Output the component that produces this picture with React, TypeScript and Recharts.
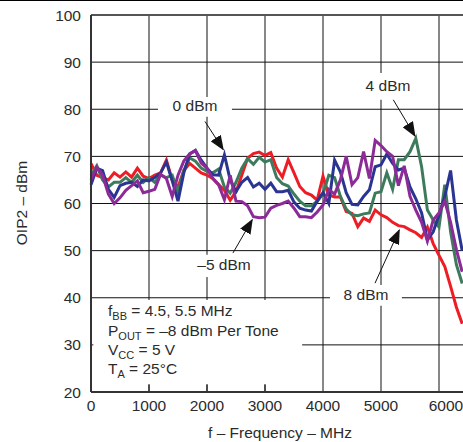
import { LineChart, Line, XAxis, YAxis, CartesianGrid, ReferenceLine, ReferenceArea } from "recharts";

// f - MHz, 100 MHz steps
const FREQ = Array.from({ length: 65 }, (_, i) => i * 100);

const P8 = [
  68.5, 66, 65.5, 65, 66.5, 65.6, 66.7, 65.6, 67.5, 65.8,
  65.3, 66, 66.5, 69.2, 65, 63.5, 67, 68.5, 67.5, 66.5,
  66, 65.3, 64, 62.8, 60.7, 62.5, 66, 69.6, 70.6, 70.9,
  70.2, 70.8, 67.5, 65.6, 69.3, 66.5, 63.6, 62.3, 61.8, 60.7,
  65.8, 61.8, 61.4, 61.4, 58.3, 57.9, 55.1, 56.9, 56.2, 58.6,
  57.6, 57, 56, 55.3, 55.1, 54.4, 53.8, 52.8, 55, 51.5,
  49, 46.6, 42.4, 38, 34.5,
];
const P4 = [
  66, 68, 65, 63.5, 64.5, 64.5, 65.5, 64.5, 66, 64.5,
  65.5, 64.5, 66, 65.5, 66, 62.5, 67, 69.7, 69, 67.5,
  66.8, 66.5, 67.3, 63.5, 62.2, 64.5, 67.5, 69.5, 68.3, 69.8,
  68.8, 69.3, 65.5, 64.2, 63.7, 62, 60.5, 59.5, 59.5, 60.5,
  62, 66, 65.5, 61.5, 58.8, 57.6, 57.4, 57.8, 58, 62.2,
  62.5, 66.5, 63, 69.3, 69.3, 71, 73.8, 67.8, 58.6, 56.5,
  55, 64, 54, 47, 43,
];
const P0 = [
  64, 67.5, 67, 63, 61.3, 63.8, 64.3, 64.5, 63.6, 65,
  64.8, 65.5, 66.5, 68.8, 64.8, 60.5, 66.5, 70.5, 71.3, 69.2,
  67.5, 66.1, 66, 70.3, 65, 62.5, 64.5, 65.5, 63.5, 64.3,
  63, 64.3, 62.5, 62.5, 62.8, 60.3, 59, 58.6, 58.4, 60.5,
  62.3, 60, 69.2, 66.7, 62.3, 59.8, 59.7, 61.5, 62.9, 67.8,
  68.2, 70.5, 68.5, 67.1, 67.5, 63.5, 61, 58, 52.3, 54,
  57.5, 61.5, 67, 56.5, 50,
];
const PM5 = [
  65, 67.7, 66, 62, 60, 61.2, 62.8, 63.8, 64.8, 62.3,
  62.6, 63, 66.2, 65.3, 61.5, 66, 69, 70.5, 71.2, 68.6,
  67.5, 65.3, 64, 60.8, 66, 60.5, 60.4, 59.5, 57.2, 57,
  57.1, 59, 59.6, 60, 60.5, 59, 57.2, 57.2, 57, 58.2,
  59.7, 63, 62, 65, 70, 64, 65.5, 71, 65.3, 73.4,
  72.3, 71, 70, 63.8, 68, 61.5, 58.6, 56, 52, 56.5,
  58, 60.5, 56, 50.2, 45.5,
];

const X_TICKS = [0, 1000, 2000, 3000, 4000, 5000, 6000];
const X_GRID = [0, 1000, 2000, 3000, 4000, 5000, 6000, 7000];
const Y_TICKS = [20, 30, 40, 50, 60, 70, 80, 90, 100];

const data = FREQ.map((f, i) => ({ f, p8: P8[i], p4: P4[i], p0: P0[i], pm5: PM5[i] }));

const FONT = "'Liberation Sans', Arial, Helvetica, sans-serif";
const TXT = "#2b2b2b";

const Label = ({ x, y, children }: { x: number; y: number; children: any }) => (
  <div
    style={{
      position: "absolute",
      left: x,
      top: y,
      transform: "translate(-50%, -50%)",
      whiteSpace: "nowrap",
      fontSize: 15.5,
      lineHeight: 1,
      color: TXT,
    }}
  >
    {children}
  </div>
);

const subStyle: any = { fontSize: 11, position: "relative", top: 4, lineHeight: 0 };

const NoteLine = ({ y, children }: { y: number; children: any }) => (
  <div
    style={{
      position: "absolute",
      left: 108,
      top: y,
      transform: "translateY(-50%)",
      fontSize: 15.5,
      lineHeight: 1,
      color: TXT,
      whiteSpace: "nowrap",
    }}
  >
    {children}
  </div>
);

// last label sits a little right of its grid line in the original
const XTick = (props: any) => {
  const { x, y, payload } = props;
  const dx = payload.value === 6000 ? 7 : 0;
  return (
    <text x={x + dx} y={y} dy="0.71em" textAnchor="middle" fontSize={15.5} fill={TXT} fontFamily={FONT}>
      {payload.value}
    </text>
  );
};

export default function App() {
  return (
    <div
      style={{
        position: "absolute",
        left: 0,
        top: 0,
        width: 463,
        height: 442,
        overflow: "hidden",
        background: "#fff",
        fontFamily: FONT,
      }}
    >
      <svg width={0} height={0} style={{ position: "absolute" }}>
        <defs>
          <marker
            id="arrowHead"
            markerUnits="userSpaceOnUse"
            markerWidth={15}
            markerHeight={12}
            refX={14}
            refY={6}
            orient="auto"
          >
            <path d="M0,0 L15,6 L0,12 z" fill="#111" />
          </marker>
        </defs>
      </svg>
      <div style={{ position: "absolute", left: 0, top: 0, width: 463, height: 1, background: "#000" }} />
      <LineChart width={500} height={442} data={data} margin={{ top: 15, right: 3, left: 0, bottom: 0 }}>
        <CartesianGrid stroke="#111" strokeWidth={1} horizontalValues={Y_TICKS} verticalValues={X_GRID} />
        <XAxis
          dataKey="f"
          type="number"
          domain={[0, 7000]}
          ticks={X_TICKS}
          height={50}
          tickLine={false}
          axisLine={{ stroke: "#333", strokeWidth: 2 }}
          tick={<XTick />}
          interval={0}
        />
        <YAxis
          type="number"
          domain={[20, 100]}
          ticks={Y_TICKS}
          width={91}
          tickLine={false}
          tickMargin={4}
          axisLine={{ stroke: "#333", strokeWidth: 2 }}
          tick={{ fontSize: 15.5, fill: TXT, fontFamily: FONT }}
          interval={0}
        />
        <ReferenceLine y={100} stroke="#555" strokeWidth={2} />

        {/* white boxes behind the annotation text */}
        <ReferenceArea x1={40} x2={3640} y1={21.5} y2={39.5} fill="#fff" fillOpacity={1} stroke="none" />
        <ReferenceArea x1={1155} x2={2430} y1={78.4} y2={82.6} fill="#fff" fillOpacity={1} stroke="none" />
        <ReferenceArea x1={4640} x2={5600} y1={82} y2={87.7} fill="#fff" fillOpacity={1} stroke="none" />
        <ReferenceArea x1={1795} x2={2845} y1={44.4} y2={49.1} fill="#fff" fillOpacity={1} stroke="none" />
        <ReferenceArea x1={4120} x2={5360} y1={38.3} y2={42.7} fill="#fff" fillOpacity={1} stroke="none" />

        {[1000, 2000, 3000].map((v) => (
          <ReferenceLine key={v} segment={[{ x: v, y: 20 }, { x: v, y: 21.7 }]} stroke="#111" />
        ))}

        <Line type="linear" dataKey="p8" stroke="#ee1d25" strokeWidth={3} dot={false} isAnimationActive={false} />
        <Line type="linear" dataKey="p4" stroke="#3d7b5d" strokeWidth={3} dot={false} isAnimationActive={false} />
        <Line type="linear" dataKey="p0" stroke="#2a3592" strokeWidth={3} dot={false} isAnimationActive={false} />
        <Line type="linear" dataKey="pm5" stroke="#8c2b97" strokeWidth={3} dot={false} isAnimationActive={false} />

        <ReferenceLine segment={[{ x: 1966, y: 77.4 }, { x: 2281, y: 71.4 }]} stroke="#111" strokeWidth={1} markerEnd="url(#arrowHead)" />
        <ReferenceLine segment={[{ x: 5212, y: 82 }, { x: 5586, y: 74.3 }]} stroke="#111" strokeWidth={1} markerEnd="url(#arrowHead)" />
        <ReferenceLine segment={[{ x: 2448, y: 49.5 }, { x: 2781, y: 56.6 }]} stroke="#111" strokeWidth={1} markerEnd="url(#arrowHead)" />
        <ReferenceLine segment={[{ x: 4897, y: 43.1 }, { x: 5316, y: 54.4 }]} stroke="#111" strokeWidth={1} markerEnd="url(#arrowHead)" />
      </LineChart>

      <Label x={195} y={106}>0 dBm</Label>
      <Label x={388} y={86}>4 dBm</Label>
      <Label x={224} y={265}>–5 dBm</Label>
      <Label x={366} y={295}>8 dBm</Label>

      <NoteLine y={311}>f<span style={subStyle}>BB</span> = 4.5, 5.5 MHz</NoteLine>
      <NoteLine y={331}>P<span style={subStyle}>OUT</span> = –8 dBm Per Tone</NoteLine>
      <NoteLine y={350}>V<span style={subStyle}>CC</span> = 5 V</NoteLine>
      <NoteLine y={369}>T<span style={subStyle}>A</span> = 25°C</NoteLine>

      <Label x={280} y={433}>f – Frequency – MHz</Label>
      <div
        style={{
          position: "absolute",
          left: 22,
          top: 203,
          transform: "translate(-50%, -50%) rotate(-90deg)",
          whiteSpace: "nowrap",
          fontSize: 15.5,
          lineHeight: 1,
          color: TXT,
        }}
      >
        OIP2 – dBm
      </div>
    </div>
  );
}
